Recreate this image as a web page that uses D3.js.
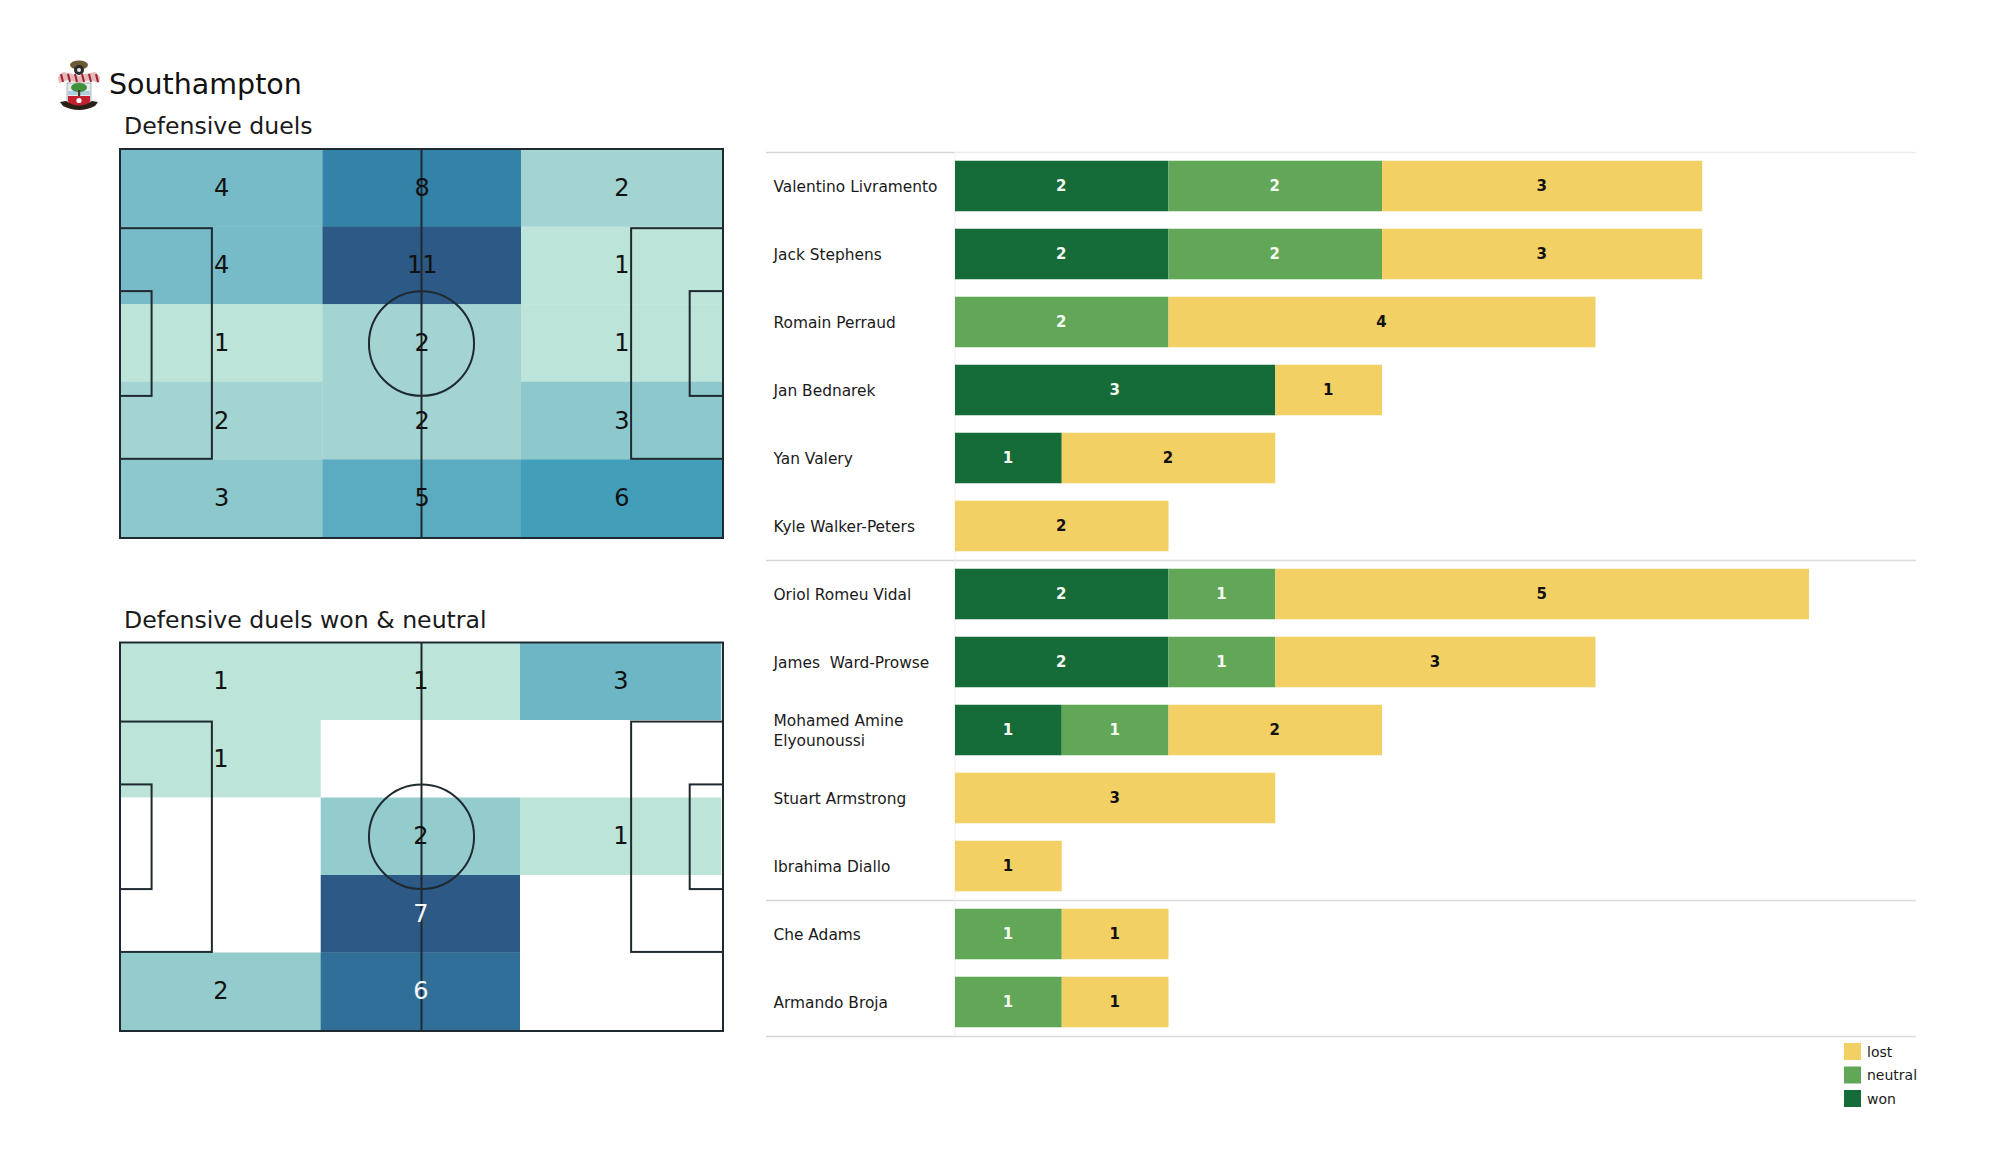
<!DOCTYPE html>
<html><head><meta charset="utf-8">
<script src="https://cdnjs.cloudflare.com/ajax/libs/d3/7.8.5/d3.min.js"></script>
<style>
html,body{margin:0;padding:0;background:#fff}
svg{display:block}
text{font-family:"DejaVu Sans",sans-serif;white-space:pre}
</style></head><body>
<svg id="c" width="2000" height="1175"></svg>
<script>
const teamName = "Southampton";
const pitchTitles = ["Defensive duels", "Defensive duels won & neutral"];
const duelsGrid = [[4,8,2],[4,11,1],[1,2,1],[2,2,3],[3,5,6]];
const wonNeutralGrid = [[1,1,3],[1,0,0],[0,2,1],[0,7,0],[2,6,0]];
const players = ["Valentino Livramento","Jack Stephens","Romain Perraud","Jan Bednarek","Yan Valery","Kyle Walker-Peters","Oriol Romeu Vidal","James  Ward-Prowse","Mohamed Amine\nElyounoussi","Stuart Armstrong","Ibrahima Diallo","Che Adams","Armando Broja"];
const won     = [2,2,0,3,1,0,2,2,1,0,0,0,0];
const neutral = [2,2,2,0,0,0,1,1,1,0,0,1,1];
const lost    = [3,3,4,1,2,2,5,3,2,3,1,1,1];
const groupBreaks = [6,11];
const statusNames = ["lost","neutral","won"];
const statusColors = {won:"#166c38",neutral:"#62a758",lost:"#f2d064"};
const heatStops = [0,.1,.2,.3,.4,.5,.7,1];
const heatColors = ["#bce4d8","#a3d4d2","#8dc8cc","#76bbc7","#5cacc1","#429eb9","#3382a8","#2c5985"];

const svg = d3.select("#c");
const heat = d3.scaleLinear().domain(heatStops).range(heatColors);

/* header crest */
const badge = svg.append("g").attr("transform","translate(58,60)");
badge.append("ellipse").attr("cx",21).attr("cy",5).attr("rx",9).attr("ry",4.5).attr("fill","#6b5a35");
badge.append("circle").attr("cx",21).attr("cy",10).attr("r",5).attr("fill","#2b2b2b");
badge.append("circle").attr("cx",21).attr("cy",10).attr("r",2).attr("fill","#e8e8e8");
badge.append("path").attr("d","M0,17 L5,12 L15,14 L21,16 L27,14 L37,12 L42,17 L41,23 L32,20 L21,23 L10,20 L1,23Z").attr("fill","#e3b9bc");
d3.range(6).forEach(i=>badge.append("path").attr("d",`M${3+i*7},14 l2,8`).attr("stroke","#a5222f").attr("stroke-width",2));
badge.append("path").attr("d","M9,23 H33 V40 Q33,45 21,47 Q9,45 9,40Z").attr("fill","#e6eaec").attr("stroke","#888").attr("stroke-width",.6);
badge.append("rect").attr("x",10).attr("y",31).attr("width",22).attr("height",4).attr("fill","#a9cfe0");
badge.append("ellipse").attr("cx",21).attr("cy",27.5).attr("rx",8).attr("ry",4.5).attr("fill","#3f8f3c");
badge.append("rect").attr("x",20).attr("y",30).attr("width",2.2).attr("height",6).attr("fill","#4a3a20");
badge.append("path").attr("d","M10,36 H32 V41 Q32,45 21,47.5 Q10,45 10,41Z").attr("fill","#c2202e");
badge.append("path").attr("d","M2,42 L8,41 Q21,50 34,41 L40,42 L37,46 Q21,54 5,46Z").attr("fill","#2a2016");
badge.append("circle").attr("cx",21).attr("cy",40.5).attr("r",2.6).attr("fill","#fff");

svg.append("text").attr("x",109).attr("y",94).attr("font-size",28.5).attr("fill","#111").text(teamName);

/* pitches */
function drawPitch(title, titleY, grid, yTop, yBottom, colEdges, lineRight, whiteFrom){
  svg.append("text").attr("x",124).attr("y",titleY).attr("font-size",23.6).attr("fill","#1a1a1a").text(title);
  const colX = d3.scaleLinear().domain([0,1,2,3]).range(colEdges);
  const rowY = d3.scaleLinear().domain([0,5]).range([yTop,yBottom]);
  const mx = d3.scaleLinear().domain([0,105]).range([120,lineRight]);
  const my = d3.scaleLinear().domain([0,68]).range([yTop,yBottom+1]);
  const maxV = d3.max(grid.flat());
  const cells = grid.flatMap((r,i)=>r.map((v,j)=>({v,i,j})));
  const g = svg.append("g");
  g.selectAll("rect").data(cells).join("rect")
    .attr("x",d=>colX(d.j)).attr("y",d=>rowY(d.i))
    .attr("width",d=>colX(d.j+1)-colX(d.j)+.3).attr("height",rowY(1)-rowY(0)+.3)
    .attr("fill",d=>d.v===0?"#fff":heat((d.v-1)/(maxV-1)));
  const line = svg.append("g").attr("fill","none").attr("stroke","#1f2a30").attr("stroke-width",2);
  const box = (x0,y0,x1,y1)=>line.append("rect").attr("x",mx(x0)).attr("y",my(y0)).attr("width",mx(x1)-mx(x0)).attr("height",my(y1)-my(y0));
  box(0,0,105,68);
  box(0,13.84,16,54.16); box(0,24.84,5.5,43.16);
  box(89,13.84,105,54.16); box(99.2,24.84,105,43.16);
  line.append("line").attr("x1",mx(52.5)).attr("x2",mx(52.5)).attr("y1",my(0)).attr("y2",my(68));
  line.append("ellipse").attr("cx",mx(52.5)).attr("cy",my(34)).attr("rx",mx(9.15)-mx(0)).attr("ry",my(9.15)-my(0));
  svg.append("g").selectAll("text").data(cells.filter(d=>d.v>0)).join("text")
    .attr("x",d=>colX(d.j+.5)+.5).attr("y",d=>rowY(d.i+.5))
    .attr("text-anchor","middle").attr("dominant-baseline","central")
    .attr("font-size",24)
    .attr("fill",d=>d.v>=whiteFrom?"#f5f8fa":"#111")
    .text(d=>d.v);
}
drawPitch(pitchTitles[0],134,duelsGrid,149,537,[120,322.5,521,722],723,99);
drawPitch(pitchTitles[1],628,wonNeutralGrid,642.5,1030,[120,320.7,520,721],723,6);

/* bars */
const x = d3.scaleLinear().domain([0,8]).range([955,1809]);
const y = d3.scaleBand().domain(players).range([152,1036]).paddingInner(.257).paddingOuter(.1285);
const step = y.step(), topY = y.range()[0];
const ruleYs = [0,...groupBreaks,players.length].map(k=>topY+k*step+.5);
const rules = svg.append("g");
rules.selectAll(".l").data(ruleYs).join("line").attr("class","l")
  .attr("x1",766).attr("x2",955).attr("y1",d=>d).attr("y2",d=>d).attr("stroke","#d6d6d6").attr("stroke-width",1.5);
rules.selectAll(".r").data(ruleYs).join("line").attr("class","r")
  .attr("x1",955).attr("x2",1916).attr("y1",d=>d).attr("y2",d=>d)
  .attr("stroke",(d,i)=>(i===0?"#ececec":"#dcdcdc")).attr("stroke-width",1.5);
rules.append("line").attr("x1",955).attr("x2",955).attr("y1",topY).attr("y2",1036).attr("stroke","#f1f1f1");

const stackInput = players.map((p,i)=>({p,won:won[i],neutral:neutral[i],lost:lost[i]}));
const series = d3.stack().keys(["won","neutral","lost"])(stackInput);
series.forEach(s=>{
  const g = svg.append("g");
  const data = s.filter(d=>d[1]>d[0]);
  g.selectAll("rect").data(data).join("rect")
    .attr("x",d=>x(d[0])).attr("y",d=>y(d.data.p))
    .attr("width",d=>x(d[1])-x(d[0])).attr("height",y.bandwidth())
    .attr("fill",statusColors[s.key]);
  g.selectAll("text").data(data).join("text")
    .attr("x",d=>x((d[0]+d[1])/2)-.5).attr("y",d=>y(d.data.p)+y.bandwidth()/2)
    .attr("text-anchor","middle").attr("dominant-baseline","central")
    .attr("font-size",15).attr("font-weight","bold")
    .attr("fill",s.key==="lost"?"#111":"#f4f9f2")
    .text(d=>d[1]-d[0]);
});

const labels = svg.append("g").selectAll("text").data(players).join("text")
  .attr("x",773.5).attr("font-size",15.4).attr("fill","#1a1a1a");
labels.each(function(p){
  const parts = p.split("\n");
  const cy = y(p)+y.bandwidth()/2;
  d3.select(this).selectAll("tspan").data(parts).join("tspan")
    .attr("x",773.5)
    .attr("y",(d,i)=>cy+(i-(parts.length-1)/2)*20+.5)
    .attr("dominant-baseline","central")
    .text(d=>d);
});

/* legend */
const legY = d3.scalePoint().domain(statusNames).range([1051.5,1098.5]);
const leg = svg.append("g").selectAll("g").data(statusNames).join("g");
leg.append("rect").attr("x",1844).attr("y",d=>legY(d)-8.5).attr("width",17).attr("height",17).attr("fill",d=>statusColors[d]);
leg.append("text").attr("x",1867).attr("y",d=>legY(d)).attr("dominant-baseline","central").attr("font-size",14).attr("fill","#1a1a1a").text(d=>d);
</script>
</body></html>
